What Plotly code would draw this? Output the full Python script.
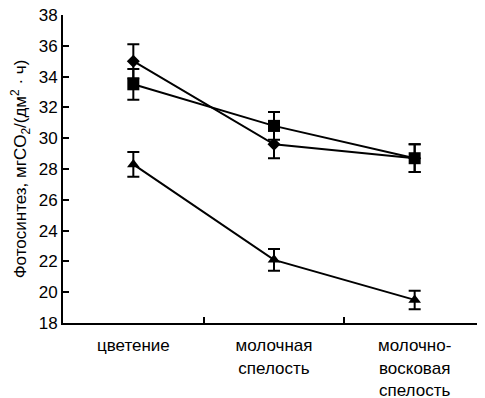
import plotly.graph_objects as go

categories = ["цветение", "молочная<br>спелость", "молочно-<br>восковая<br>спелость"]
diamond_vals = [35.0, 29.6, 28.7]
diamond_err = [1.1, 0.9, 0.9]
square_vals = [33.5, 30.8, 28.7]
square_err = [1.0, 0.9, 0.9]
triangle_vals = [28.3, 22.1, 19.5]
triangle_err = [0.8, 0.7, 0.6]
y_ticks = [18, 20, 22, 24, 26, 28, 30, 32, 34, 36, 38]

FONT = "Liberation Sans, Arial, sans-serif"

fig = go.Figure()

def add_series(vals, errs, symbol, size):
    fig.add_trace(go.Scatter(
        x=categories, y=vals,
        mode="lines+markers",
        line=dict(color="black", width=2),
        marker=dict(symbol=symbol, size=size, color="black"),
        error_y=dict(type="data", array=errs, visible=True,
                     color="black", thickness=2, width=6),
        showlegend=False,
    ))

add_series(diamond_vals, diamond_err, "diamond", 10)
add_series(square_vals, square_err, "square", 12)
add_series(triangle_vals, triangle_err, "triangle-up", 11)

# page body has an 8px default margin; margins below compensate for it
fig.update_layout(
    width=485, height=398,
    margin=dict(l=55, r=8, t=7, b=83),
    plot_bgcolor="white", paper_bgcolor="white",
    font=dict(family=FONT, size=17, color="black"),
    xaxis=dict(
        type="category",
        range=[-0.5, 2.5],
        automargin=False,
        showline=True, linecolor="black", linewidth=2,
        ticks="inside", tickson="boundaries", ticklen=6, tickwidth=2, tickcolor="black",
        showgrid=False, zeroline=False,
        ticklabelstandoff=6,
        ticklabeloverflow="allow",
        tickfont=dict(size=17, family=FONT),
    ),
    yaxis=dict(
        range=[18, 38],
        tickvals=y_ticks,
        automargin=False,
        showline=True, linecolor="black", linewidth=2,
        ticks="inside", ticklen=6, tickwidth=2, tickcolor="black",
        showgrid=False, zeroline=False,
        ticklabeloverflow="allow",
        tickfont=dict(size=17, family=FONT),
        title=dict(text="Фотосинтез, мгCO<sub>2</sub>/(дм<sup>2</sup> · ч)",
                   font=dict(size=17, family=FONT), standoff=12),
    ),
)

fig.write_html("out.html")
